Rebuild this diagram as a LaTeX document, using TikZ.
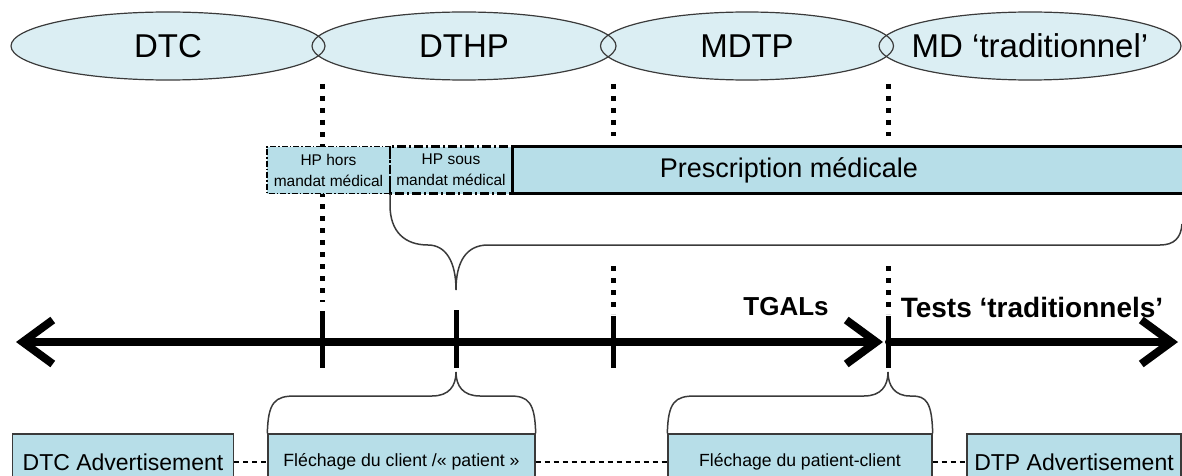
\documentclass[tikz,border=0pt]{standalone}
\usepackage{fontspec}
\setmainfont{Liberation Sans}
\usetikzlibrary{shapes.geometric}
\usetikzlibrary{arrows.meta}
\usetikzlibrary{positioning}
\definecolor{phasefill}{HTML}{DBEEF3}
\definecolor{boxfill}{HTML}{B7DEE8}
\definecolor{braceline}{HTML}{3A3A3A}

\begin{document}
\begin{tikzpicture}
        [x=1pt, y=-1pt,
         phase/.style={ellipse, fill=phasefill, minimum height=68pt, inner sep=0pt,
                       font=\fontsize{33}{40}\selectfont},
         hpbox/.style={rectangle, fill=boxfill, minimum height=47pt, inner sep=0pt, outer sep=0pt,
                       align=center, font=\fontsize{15.5}{21}\selectfont},
         adbox/.style={rectangle, draw=braceline, line width=1.3pt, fill=boxfill,
                       minimum height=56pt, inner sep=0pt},
         vdots/.style={line width=5pt, dash pattern=on 5pt off 7pt},
         tickmark/.style={line width=5pt},
         axis/.style={line width=8pt, line cap=round,
                      >={Straight Barb[length=30pt,width=44pt]}},
         brace/.style={braceline, line width=1.5pt},
         link/.style={line width=1.2pt, dash pattern=on 5pt off 4pt}]
        \clip (0,0) rectangle (1182,476);
        % phases
        \foreach \n/\cx/\w/\t in {dtc/168/314/DTC, dthp/464/304/DTHP, mdtp/747/293/MDTP,
                                  mdtrad/1030/302/{MD ‘traditionnel’}}
            \node [phase, minimum width=\w pt] (\n) at (\cx,46) {\makebox[0pt]{\t}};
        \foreach \cx/\w in {168/314, 464/304, 747/293, 1030/302}
            \draw [braceline, line width=1.2pt] (\cx,46) ellipse ({\w/2} and 34);
        % dotted separators
        \coordinate (s1a) at (322,84);
        \coordinate (s1b) at (322,302);
        \coordinate (s2a) at (613,84);
        \coordinate (s2b) at (613,136);
        \coordinate (s2c) at (613,266);
        \coordinate (s2d) at (613,314);
        \coordinate (s3a) at (888,84);
        \coordinate (s3b) at (888,136);
        \coordinate (s3c) at (888,266);
        \coordinate (s3d) at (888,314);
        \draw [vdots] (s1a) -- (s1b);
        \draw [vdots] (s2a) -- (s2b);
        \draw [vdots] (s2c) -- (s2d);
        \draw [vdots] (s3a) -- (s3b);
        \draw [vdots] (s3c) -- (s3d);
        % prescriptions
        \node [hpbox, minimum width=123pt] (hphors) at (328.5,170) {HP hors\\mandat médical};
        \node [hpbox, minimum width=122pt, right=0pt of hphors] (hpsous) {HP sous\\mandat médical};
        \node [hpbox, minimum width=690pt, right=0pt of hpsous, draw, line width=3pt] (prescr) {};
        \draw [line width=1.2pt, dash pattern=on 6pt off 2pt on 1.5pt off 2pt]
            (hphors.south east) rectangle (hphors.north west);
        \draw [line width=2.2pt, dash pattern=on 9pt off 3pt on 2pt off 3pt]
            (hpsous.south east) rectangle (hpsous.north west);
        \node [font=\fontsize{27}{32}\selectfont] (prescrtext) at (789,170) {Prescription médicale};
        \draw [brace] (hpsous.south west) -- (390,205) .. controls (390,232) and (405,245) .. (428,245)
            .. controls (446,245) and (456,262) .. (456,290)
            .. controls (456,262) and (466,245) .. (488,245) -- (1160,245)
            .. controls (1174,245) and (1181,238) .. (1182,224);
        % time axis
        \coordinate (axl) at (16,342);
        \coordinate (axm) at (883,342);
        \coordinate (axn) at (889,342);
        \coordinate (axr) at (1178,342);
        \draw [axis, <->] (axl) -- (axm);
        \draw [axis, ->] (axn) -- (axr);
        \foreach \tx/\ty in {322/311, 456/310, 613/316, 888/316}
            \draw [tickmark] (\tx,\ty) -- (\tx,368);
        \node [font=\bfseries\fontsize{26}{30}\selectfont] (tgals) at (786,307) {TGALs};
        \node [font=\bfseries\fontsize{28}{32}\selectfont] (tests) at (1032,307) {Tests ‘traditionnels’};
        % targeting
        \node [adbox, minimum width=221pt, font=\fontsize{23}{28}\selectfont] (dtcadv) at (123,462) {DTC Advertisement};
        \node [adbox, minimum width=267pt, font=\fontsize{17.7}{22}\selectfont] (flclient) at (401.5,462) {Fléchage du client /« patient »};
        \node [adbox, minimum width=264pt, font=\fontsize{17.6}{22}\selectfont] (flpatient) at (800,462) {Fléchage du patient-client};
        \node [adbox, minimum width=214pt, font=\fontsize{23}{28}\selectfont] (dtpadv) at (1074,462) {DTP Advertisement};
        \draw [link] (dtcadv) -- (flclient);
        \draw [link] (flclient) -- (flpatient);
        \draw [link] (flpatient) -- (dtpadv);
        \draw [brace] (flclient.north west) .. controls (268,402) and (275,396) .. (295,396) -- (432,396)
            .. controls (449,396) and (456,386) .. (456,372)
            .. controls (456,386) and (463,396) .. (480,396) -- (510,396)
            .. controls (528,396) and (535,402) .. (flclient.north east);
        \draw [brace] (flpatient.north west) .. controls (668,402) and (675,396) .. (695,396) -- (864,396)
            .. controls (881,396) and (888,386) .. (888,372)
            .. controls (888,386) and (895,396) .. (910,396) -- (912,396)
            .. controls (926,396) and (932,402) .. (flpatient.north east);
\end{tikzpicture}
\end{document}
